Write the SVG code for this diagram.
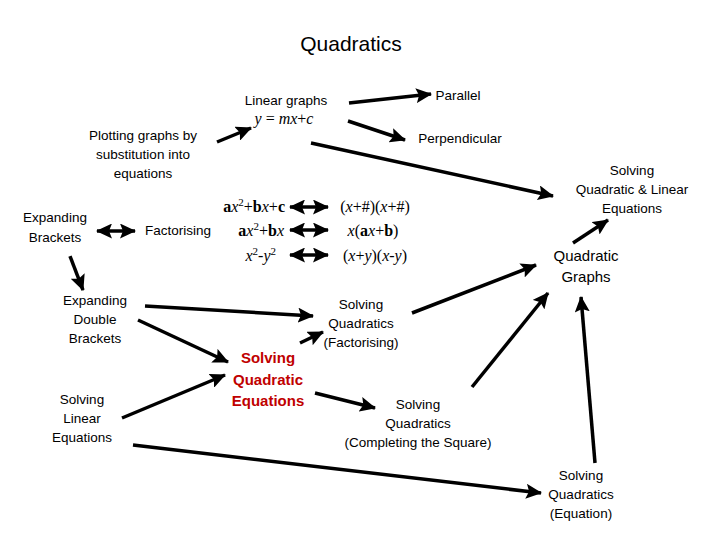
<svg xmlns="http://www.w3.org/2000/svg" width="720" height="540" viewBox="0 0 720 540">
<style>
text{font-family:"Liberation Sans",Arial,sans-serif;font-size:13.5px;fill:#000;text-anchor:middle}
.title{font-size:21px}
.big{font-size:15px}
.red{fill:#c00000;font-weight:bold;font-size:15px}
.m{font-family:"Liberation Serif","Times New Roman",serif;font-size:16px}
.i{font-style:italic}
.b{font-weight:bold}
.r{text-anchor:end}
.c line{stroke:#000;stroke-width:3.5}
</style>
<defs>
<marker id="ah" markerUnits="userSpaceOnUse" markerWidth="17" markerHeight="15" refX="15" refY="7.5" orient="auto">
<path d="M0,0 L16,7.5 L0,15 L3,7.5 Z" fill="#000"/>
</marker>
<marker id="as" markerUnits="userSpaceOnUse" markerWidth="17" markerHeight="15" refX="2" refY="7.5" orient="auto">
<path d="M17,0 L1,7.5 L17,15 L14,7.5 Z" fill="#000"/>
</marker>
</defs>
<rect width="720" height="540" fill="#fff"/>
<g id="title"><text class="title" x="351" y="51">Quadratics</text></g>
<g id="linear"><text x="286" y="105">Linear graphs</text><text class="m" x="284" y="124"><tspan class="i">y</tspan> = <tspan class="i">mx</tspan>+<tspan class="i">c</tspan></text></g>
<g id="parallel"><text x="458" y="100">Parallel</text></g>
<g id="perp"><text x="460" y="143">Perpendicular</text></g>
<g id="plotting"><text x="143" y="140">Plotting graphs by</text><text x="143" y="159">substitution into</text><text x="143" y="178">equations</text></g>
<g id="sql"><text x="632" y="175">Solving</text><text x="632" y="194">Quadratic &amp; Linear</text><text x="632" y="213">Equations</text></g>
<g id="expb"><text x="55" y="222">Expanding</text><text x="55" y="242">Brackets</text></g>
<g id="fact"><text x="178" y="235">Factorising</text></g>
<g id="forms">
<text class="m r" x="285" y="212"><tspan class="b">a</tspan><tspan class="i">x</tspan><tspan font-size="11" dy="-6">2</tspan><tspan dy="6">+</tspan><tspan class="b">b</tspan><tspan class="i">x</tspan>+<tspan class="b">c</tspan></text>
<text class="m r" x="284" y="236"><tspan class="b">a</tspan><tspan class="i">x</tspan><tspan font-size="11" dy="-6">2</tspan><tspan dy="6">+</tspan><tspan class="b">b</tspan><tspan class="i">x</tspan></text>
<text class="m r" x="276" y="261"><tspan class="i">x</tspan><tspan font-size="11" dy="-6">2</tspan><tspan dy="6">-</tspan><tspan class="i">y</tspan><tspan font-size="11" dy="-6">2</tspan></text>
<text class="m" x="375" y="212">(<tspan class="i">x</tspan>+#)(<tspan class="i">x</tspan>+#)</text>
<text class="m" x="373" y="236"><tspan class="i">x</tspan>(<tspan class="b">a</tspan><tspan class="i">x</tspan>+<tspan class="b">b</tspan>)</text>
<text class="m" x="375" y="261">(<tspan class="i">x</tspan>+<tspan class="i">y</tspan>)(<tspan class="i">x</tspan>-<tspan class="i">y</tspan>)</text>
</g>
<g id="qgraphs"><text class="big" x="586" y="261">Quadratic</text><text class="big" x="586" y="282">Graphs</text></g>
<g id="expdb"><text x="95" y="305">Expanding</text><text x="95" y="324">Double</text><text x="95" y="343">Brackets</text></g>
<g id="sqf"><text x="361" y="309">Solving</text><text x="361" y="328">Quadratics</text><text x="361" y="347">(Factorising)</text></g>
<g id="sqe"><text class="red" x="268" y="363">Solving</text><text class="red" x="268" y="385">Quadratic</text><text class="red" x="268" y="406">Equations</text></g>
<g id="sle"><text x="82" y="404">Solving</text><text x="82" y="423">Linear</text><text x="82" y="442">Equations</text></g>
<g id="sqc"><text x="418" y="409">Solving</text><text x="418" y="428">Quadratics</text><text x="418" y="447">(Completing the Square)</text></g>
<g id="sqeq"><text x="581" y="480">Solving</text><text x="581" y="499">Quadratics</text><text x="581" y="518">(Equation)</text></g>
<g class="c" id="connectors">
<line x1="217" y1="142" x2="251" y2="128" marker-end="url(#ah)"/>
<line x1="349" y1="103" x2="431" y2="94" marker-end="url(#ah)"/>
<line x1="348" y1="121" x2="405" y2="140" marker-end="url(#ah)"/>
<line x1="311" y1="143" x2="553" y2="196" marker-end="url(#ah)"/>
<line x1="573" y1="243" x2="608" y2="220" marker-end="url(#ah)"/>
<line x1="97" y1="231" x2="135" y2="231" marker-start="url(#as)" marker-end="url(#ah)"/>
<line x1="290" y1="207" x2="328" y2="207" marker-start="url(#as)" marker-end="url(#ah)"/>
<line x1="290" y1="230" x2="328" y2="230" marker-start="url(#as)" marker-end="url(#ah)"/>
<line x1="290" y1="255" x2="328" y2="255" marker-start="url(#as)" marker-end="url(#ah)"/>
<line x1="70" y1="256" x2="83" y2="290" marker-end="url(#ah)"/>
<line x1="145" y1="306" x2="313" y2="316" marker-end="url(#ah)"/>
<line x1="138" y1="320" x2="228" y2="362" marker-end="url(#ah)"/>
<line x1="122" y1="418" x2="225" y2="375" marker-end="url(#ah)"/>
<line x1="300" y1="343" x2="323" y2="332" marker-end="url(#ah)"/>
<line x1="315" y1="393" x2="375" y2="408" marker-end="url(#ah)"/>
<line x1="412" y1="313" x2="536" y2="265" marker-end="url(#ah)"/>
<line x1="472" y1="387" x2="548" y2="293" marker-end="url(#ah)"/>
<line x1="595" y1="463" x2="581" y2="297" marker-end="url(#ah)"/>
<line x1="133" y1="445" x2="541" y2="493" marker-end="url(#ah)"/>
</g>
</svg>
